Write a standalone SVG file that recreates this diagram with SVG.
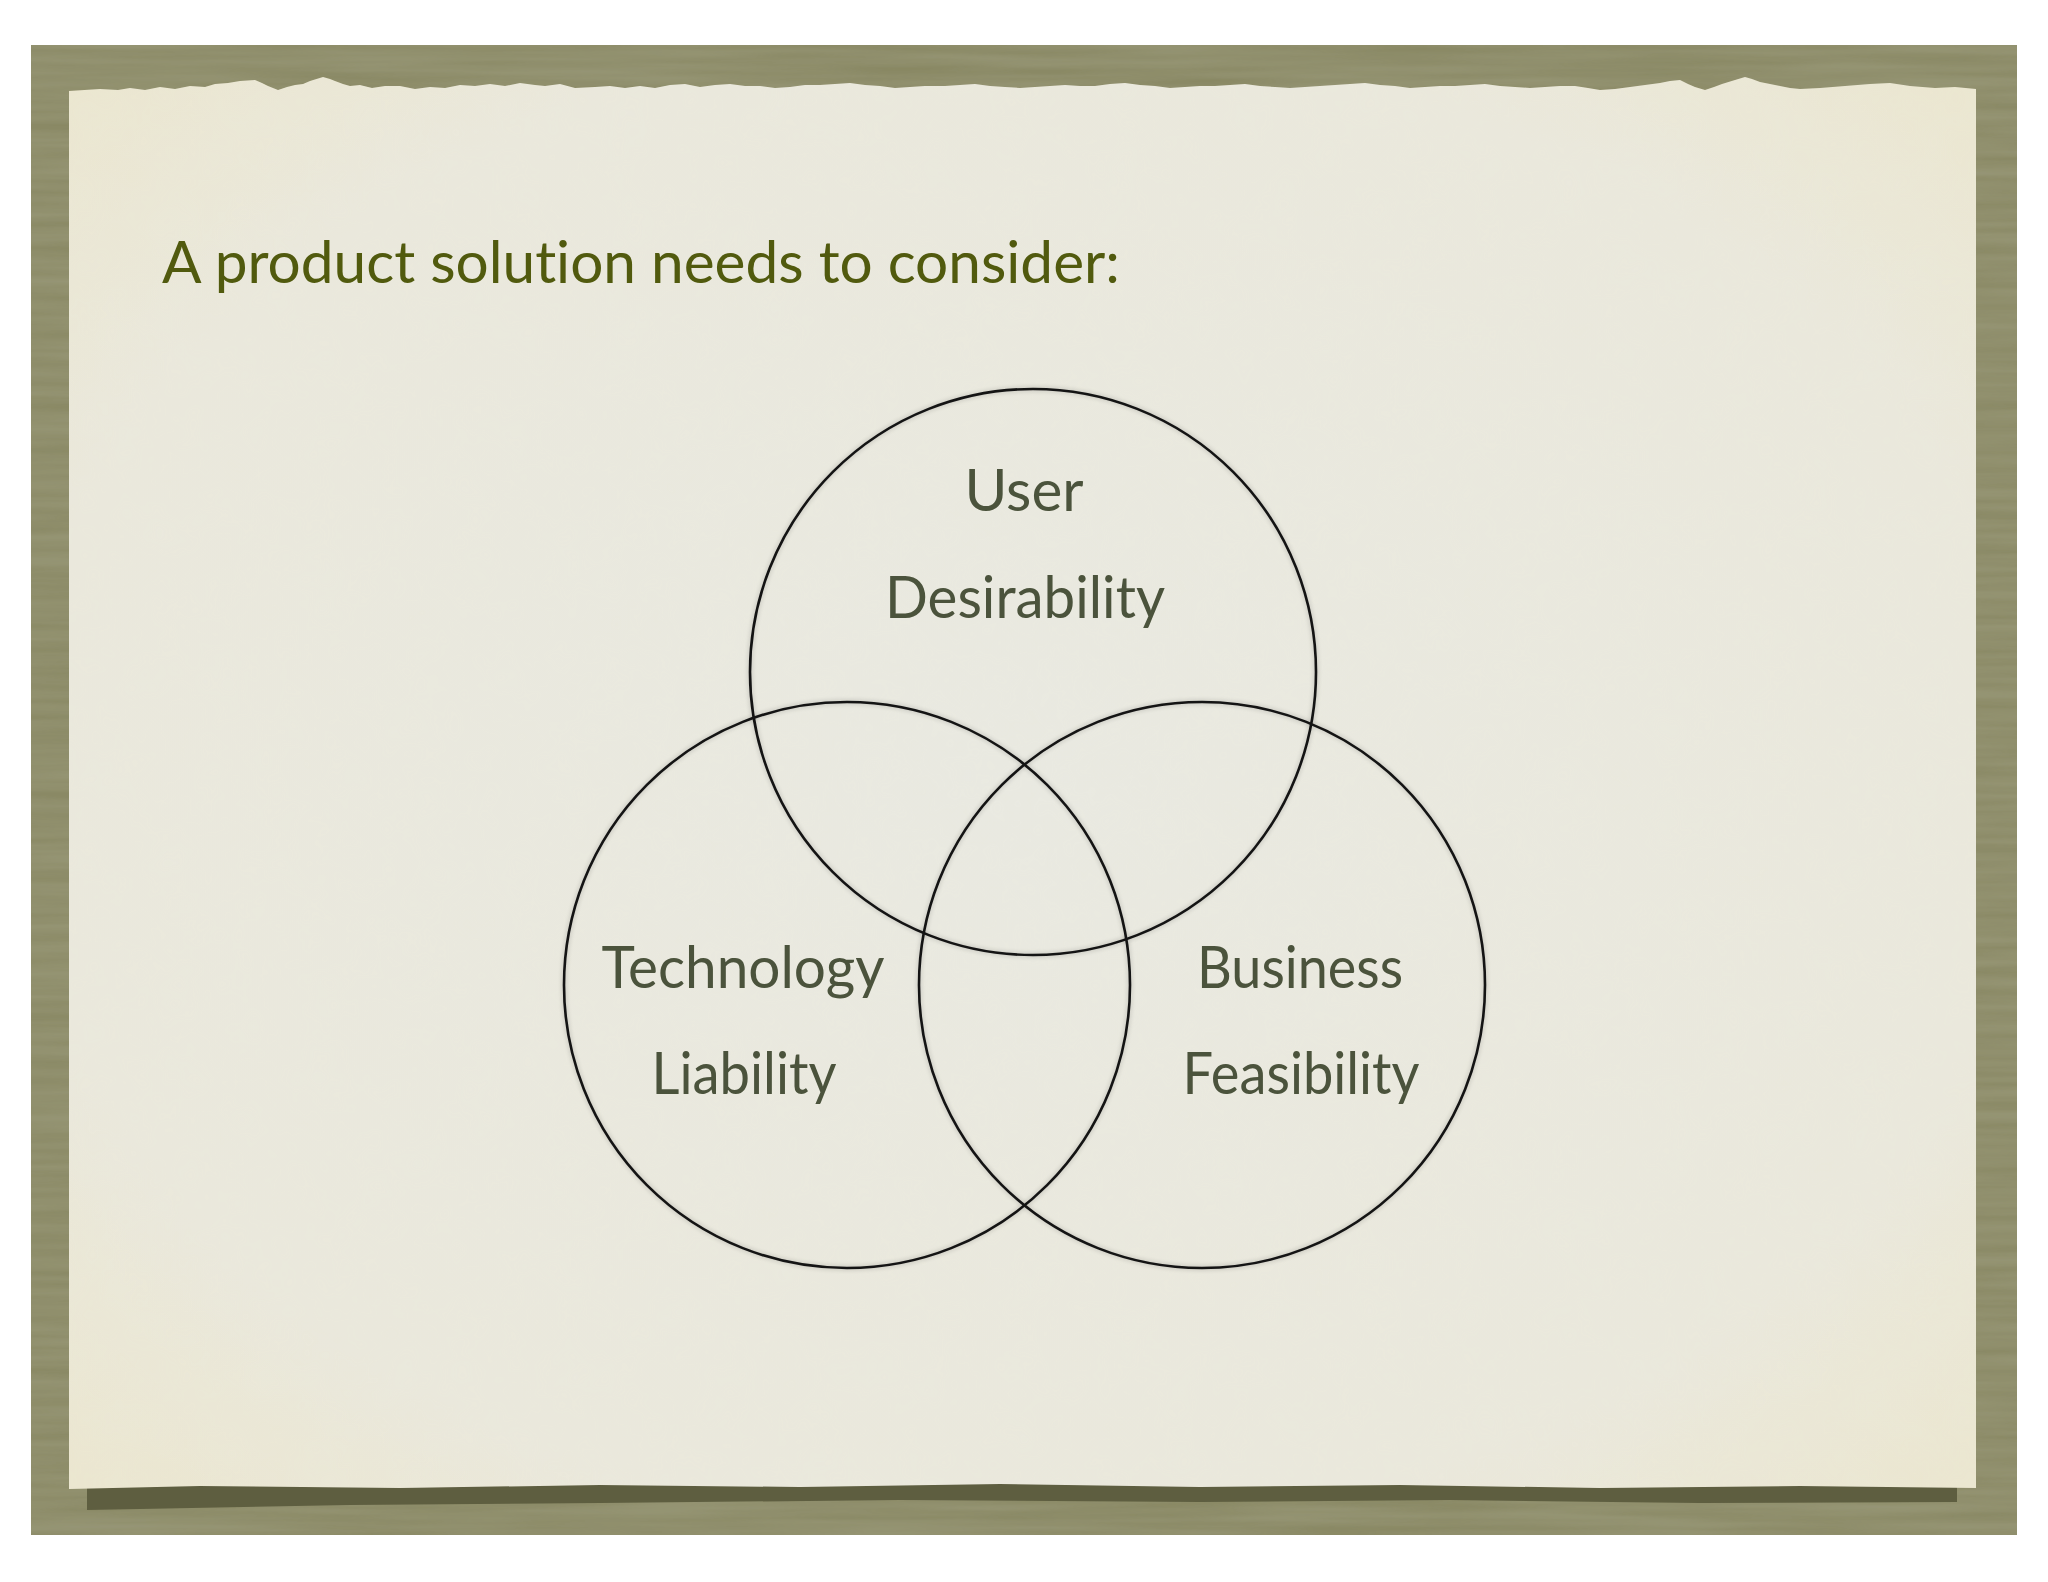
<svg xmlns="http://www.w3.org/2000/svg" width="2048" height="1582" viewBox="0 0 2048 1582">
  <defs>
    <style>
      text { font-variant-ligatures: none; font-feature-settings: "liga" 0, "dlig" 0; }
      .label { font-family: Lato, "Open Sans", "Liberation Sans", sans-serif; font-size: 59px; fill: #4b533c; text-anchor: middle; }
      .title { font-family: Lato, "Open Sans", "Liberation Sans", sans-serif; font-size: 59px; fill: #515a0e; }
      .ring { fill: none; stroke: #141414; stroke-width: 2.6; }
      .ringshadow { fill: none; stroke: #000; stroke-width: 5; opacity: 0.12; filter: url(#soft); }
    </style>
    <filter id="soft" x="-10%" y="-10%" width="120%" height="120%">
      <feGaussianBlur stdDeviation="2"/>
    </filter>
    <filter id="frameTex" x="0" y="0" width="100%" height="100%">
      <feTurbulence type="fractalNoise" baseFrequency="0.004 0.09" numOctaves="3" seed="4" result="n"/>
      <feColorMatrix in="n" type="matrix" values="0 0 0 0 0.45  0 0 0 0 0.45  0 0 0 0 0.32  0 0 0 0.35 0" result="c"/>
      <feComposite in="c" in2="SourceGraphic" operator="in" result="t"/>
      <feMerge><feMergeNode in="SourceGraphic"/><feMergeNode in="t"/></feMerge>
    </filter>
    <filter id="paperTex" x="0" y="0" width="100%" height="100%">
      <feTurbulence type="fractalNoise" baseFrequency="0.02" numOctaves="3" seed="9" result="n"/>
      <feColorMatrix in="n" type="matrix" values="0 0 0 0 0.85  0 0 0 0 0.85  0 0 0 0 0.78  0 0 0 0.12 0" result="c"/>
      <feComposite in="c" in2="SourceGraphic" operator="in" result="t"/>
      <feMerge><feMergeNode in="SourceGraphic"/><feMergeNode in="t"/></feMerge>
    </filter>
    <radialGradient id="paperGrad" cx="50%" cy="50%" r="70%">
      <stop offset="0" stop-color="#e9e9e1"/>
      <stop offset="0.75" stop-color="#eae8dc"/>
      <stop offset="1" stop-color="#ebe6cf"/>
    </radialGradient>
  </defs>

  <rect x="0" y="0" width="2048" height="1582" fill="#ffffff"/>

  <g id="frame">
    <rect x="31" y="45" width="1986" height="1490" fill="#878660" filter="url(#frameTex)"/>
    <path d="M87,1486 L300,1483 L520,1486 L760,1480 L1000,1484 L1250,1479 L1500,1482 L1750,1479 L1957,1482 L1957,1502 L1700,1503 L1450,1500 L1200,1502 L900,1500 L600,1503 L350,1505 L140,1509 L87,1510 Z" fill="#5e5e40"/>
    <path d="M69,91 L100,89 L118,90 L130,88 L145,90 L160,87 L175,89 L190,86 L205,87 L215,84 L228,83 L240,81 L255,80 L262,83 L268,86 L278,90 L287,87 L295,85 L303,84 L310,81 L323,77 L330,79 L335,81 L343,84 L350,86 L360,85 L372,88 L385,86 L400,86 L415,89 L430,87 L445,88 L460,85 L475,86 L490,84 L505,86 L520,83 L535,85 L545,86 L560,84 L575,88 L595,87 L610,86 L625,88 L640,86 L655,88 L670,85 L685,84 L700,87 L715,85 L730,84 L745,86 L760,86 L775,88 L790,87 L805,85 L820,85 L835,84 L850,83 L865,85 L880,86 L895,88 L910,87 L925,86 L945,86 L960,85 L975,84 L990,86 L1005,87 L1020,88 L1035,87 L1050,86 L1065,85 L1080,86 L1095,86 L1110,84 L1125,83 L1140,85 L1155,86 L1170,88 L1185,87 L1200,86 L1215,86 L1230,85 L1245,84 L1260,86 L1275,87 L1290,88 L1305,87 L1320,86 L1335,85 L1350,84 L1365,83 L1380,85 L1395,86 L1410,88 L1425,87 L1440,86 L1455,86 L1470,85 L1485,84 L1500,86 L1515,87 L1530,88 L1545,87 L1560,86 L1575,86 L1588,88 L1600,90 L1615,89 L1630,87 L1645,85 L1660,83 L1670,81 L1680,80 L1688,84 L1695,87 L1705,90 L1714,87 L1722,84 L1735,80 L1745,77 L1752,79 L1760,82 L1770,84 L1780,86 L1790,88 L1800,89 L1820,88 L1845,86 L1870,84 L1890,83 L1910,86 L1935,88 L1955,87 L1976,89 L1976,1488 L1800,1486 L1600,1488 L1400,1485 L1200,1487 L1000,1484 L800,1487 L600,1485 L400,1488 L200,1486 L69,1489 Z" fill="url(#paperGrad)" filter="url(#paperTex)"/>
  </g>

  <g id="title">
    <text class="title" x="162" y="283" textLength="958" lengthAdjust="spacingAndGlyphs">A product solution needs to consider:</text>
  </g>

  <g id="connectors"></g>

  <g id="node-user">
    <circle class="ringshadow" cx="1033" cy="672" r="283"/>
    <circle class="ring" cx="1033" cy="672" r="283"/>
    <text class="label" x="1024" y="511" textLength="119" lengthAdjust="spacingAndGlyphs">User</text>
    <text class="label" x="1025" y="618" textLength="280" lengthAdjust="spacingAndGlyphs">Desirability</text>
  </g>

  <g id="node-technology">
    <circle class="ringshadow" cx="847" cy="985" r="283"/>
    <circle class="ring" cx="847" cy="985" r="283"/>
    <text class="label" x="743" y="988" textLength="283" lengthAdjust="spacingAndGlyphs">Technology</text>
    <text class="label" x="744" y="1094" textLength="185" lengthAdjust="spacingAndGlyphs">Liability</text>
  </g>

  <g id="node-business">
    <circle class="ringshadow" cx="1202" cy="985" r="283"/>
    <circle class="ring" cx="1202" cy="985" r="283"/>
    <text class="label" x="1300" y="988" textLength="206" lengthAdjust="spacingAndGlyphs">Business</text>
    <text class="label" x="1301" y="1094" textLength="237" lengthAdjust="spacingAndGlyphs">Feasibility</text>
  </g>
</svg>
